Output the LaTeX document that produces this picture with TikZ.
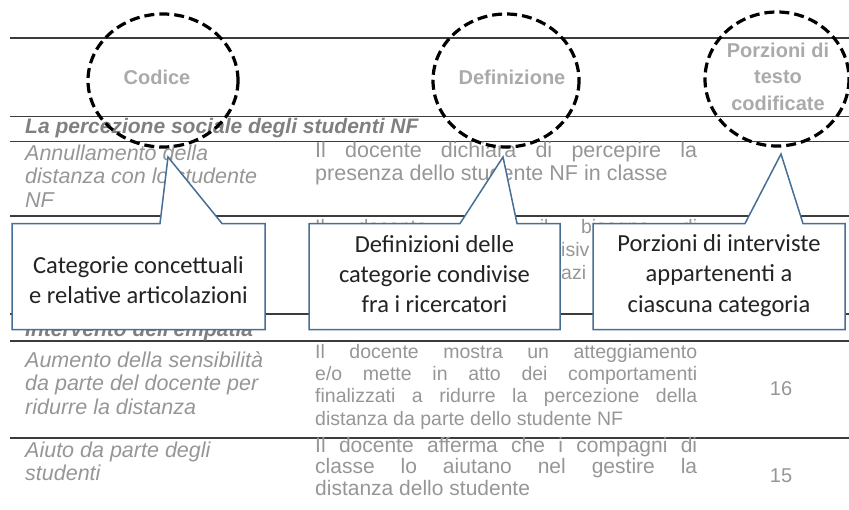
\documentclass[tikz,border=0pt]{standalone}
\usepackage{fontspec}
\newfontfamily\tabfont{Liberation Sans}
\newfontfamily\callfont{Carlito}
\definecolor{rulegray}{RGB}{60,60,60}
\definecolor{txtgray}{RGB}{150,150,150}
\definecolor{headgray}{RGB}{170,170,170}
\definecolor{callblue}{RGB}{70,110,150}
\definecolor{calltext}{RGB}{35,35,35}
\newcommand{\jline}[1]{\makebox[382pt][s]{#1}}

\tikzset{
  tabrule/.style={draw=rulegray, line width=1.8pt},
  head/.style={font=\tabfont\bfseries\fontsize{20}{26.5}\selectfont, text=headgray, align=center, inner sep=0pt, anchor=base},
  cat/.style={font=\tabfont\itshape\fontsize{21.5}{23.5}\selectfont, text=txtgray, align=left, inner sep=0pt, anchor=base west},
  defn/.style={font=\tabfont\fontsize{19.5}{22.3}\selectfont, text=txtgray, align=left, inner sep=0pt, anchor=base west},
  sect/.style={font=\tabfont\bfseries\itshape\fontsize{21}{25}\selectfont, text=txtgray!85!black, inner sep=0pt, anchor=base west},
  num/.style={font=\tabfont\fontsize{20}{24}\selectfont, text=txtgray, inner sep=0pt, anchor=base},
  ring/.style={draw=black, line width=3.2pt, dash pattern=on 10pt off 5pt},
  callbox/.style={draw=callblue, fill=white, line width=1.5pt, line join=miter},
  calltxt/.style={font=\callfont\fontsize{24.5}{30}\selectfont, text=calltext, align=center, inner sep=0pt, anchor=base}
}

\begin{document}
\begin{tikzpicture}[x=1pt,y=-1pt]
  \useasboundingbox (0,0) rectangle (849,509);

  % table rules
  \foreach \y in {38,116.5,141.5,216,314,341,438}
    \draw[tabrule] (10,\y) -- (849,\y);

  % header (base = last line)
  \node[head] (hcod) at (157,84) {Codice};
  \node[head] (hdef) at (512,84) {Definizione};
  \node[head] (hpor) at (778,110) {Porzioni di\\testo\\codificate};

  % rows
  \node[sect] (sec1) at (25,133) {La percezione sociale degli studenti NF};
  \node[cat] (c1) at (25,207) {Annullamento della\\distanza con lo studente\\NF};
  \node[defn,font=\tabfont\fontsize{21.5}{23}\selectfont] (d1) at (315,180.5) {\jline{Il docente dichiara di percepire la}\\presenza dello studente NF in classe};
  \node[defn] (d2) at (315,233) {\jline{Il docente sente il bisogno di}};
  \node[defn] (d2b) at (561,256) {isiv};
  \node[defn] (d2c) at (561,279) {azi};
  \node[sect] (sec2) at (25,336) {Intervento dell'empatia};
  \node[cat] (c3) at (25,414) {Aumento della sensibilità\\da parte del docente per\\ridurre la distanza};
  \node[defn] (d3) at (315,425) {\jline{Il docente mostra un atteggiamento}\\\jline{e/o mette in atto dei comportamenti}\\\jline{finalizzati a ridurre la percezione della}\\distanza da parte dello studente NF};
  \node[num] (n3) at (781,395) {16};
  \node[cat] (c4) at (25,480.5) {Aiuto da parte degli\\studenti};
  \node[defn,font=\tabfont\fontsize{21}{21.5}\selectfont] (d4) at (315,495) {\jline{Il docente afferma che i compagni di}\\\jline{classe lo aiutano nel gestire la}\\distanza dello studente};
  \node[num] (n4) at (781,482) {15};

  % dashed rings
  \draw[ring] (163,80.5) ellipse [x radius=75, y radius=66.5];
  \draw[ring] (506,80.5) ellipse [x radius=73, y radius=66.5];
  \draw[ring] (777,79) ellipse [x radius=72, y radius=67];

  % callouts
  \coordinate (tip1) at (168,157);
  \coordinate (tip2) at (503,157);
  \coordinate (tip3) at (781,154);
  \foreach \l/\r/\a/\b/\t in {12/265/160/222/tip1, 309/560/460/517/tip2, 593/845/745/803/tip3}
    \filldraw[callbox] (\l,223.5) -- (\a,223.5) -- (\t) -- (\b,223.5) -- (\r,223.5) -- (\r,329.5) -- (\l,329.5) -- cycle;
  \node[calltxt] (lcat) at (138.5,303) {Categorie concettuali\\e relative articolazioni};
  \node[calltxt] (ldef) at (434.5,312) {Definizioni delle\\categorie condivise\\fra i ricercatori};
  \node[calltxt,font=\callfont\fontsize{24.5}{30.5}\selectfont] (lpor) at (719,312) {Porzioni di interviste\\appartenenti a\\ciascuna categoria};
\end{tikzpicture}
\end{document}
